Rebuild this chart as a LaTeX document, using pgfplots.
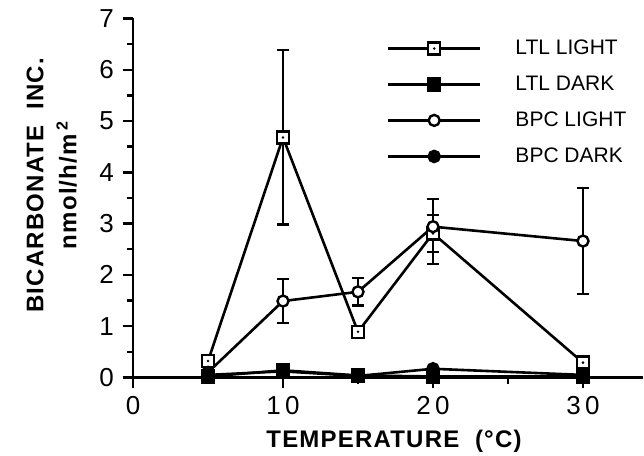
\documentclass[border=0pt]{standalone}
\usepackage{pgfplots}
\pgfplotsset{compat=1.18}
\usepackage{fontspec}
\setmainfont{Liberation Sans}
\newfontfamily\labfont[LetterSpace=5]{Liberation Sans}
\pgfdeclareplotmark{sqdot}{%
  \pgfpathrectangle{\pgfqpoint{-\pgfplotmarksize}{-\pgfplotmarksize}}{\pgfqpoint{2\pgfplotmarksize}{2\pgfplotmarksize}}%
  \pgfusepathqfillstroke
  \begin{pgfscope}%
  \pgfsetfillcolor{black}%
  \pgfpathcircle{\pgfpointorigin}{0.7pt}%
  \pgfusepathqfill
  \end{pgfscope}}
\begin{document}
\begin{tikzpicture}
\begin{axis}[
  at={(0,0)}, anchor=south west,
  scale only axis, width=255pt, height=179.55pt,
  xmin=0, xmax=34, ymin=0, ymax=7,
  axis x line*=bottom, axis y line*=left,
  axis line style={line width=1.2pt},
  every tick/.style={line width=1.2pt, black},
  tick align=outside,
  major tick length=5pt, minor tick length=3pt,
  xtick={0,10,20,30}, minor xtick={5,15,25},
  xticklabels={0,1\,0,2\,0,3\,0},
  ytick={0,1,2,3,4,5,6,7}, minor ytick={0.5,1.5,2.5,3.5,4.5,5.5,6.5},
  yticklabels={0,1,2,3,4,5,6,7},
  ticklabel style={font=\fontsize{13}{15}\selectfont},
  xticklabel style={yshift=-1pt},
  yticklabel style={xshift=-1pt},
  clip=false,
  legend style={draw=none, fill=none, at={(axis cs:16.5,6.75)}, anchor=north west,
    font=\fontsize{10.5}{12}\selectfont, row sep=5.2pt,
    /tikz/every odd column/.style={column sep=15pt}},
  legend cell align=left,
  legend image code/.code={\draw[mark repeat=2,mark phase=2,#1] plot coordinates {(0pt,0pt) (23pt,0pt) (46pt,0pt)};},
  error bars/error bar style={line width=1.2pt, black},
  error bars/error mark options={rotate=90, mark size=3pt, line width=1.2pt, black},
]
% LTL LIGHT
\addplot[black, line width=1.3pt, mark=sqdot, mark size=3pt, mark options={fill=white, solid, line width=1.2pt},
  error bars/.cd, y dir=both, y explicit]
  coordinates {(5,0.32) +- (0,0) (10,4.68) +- (0,1.70) (15,0.89) +- (0,0) (20,2.81) +- (0,0.36) (30,0.29) +- (0,0)};
\addlegendentry{LTL LIGHT}
% LTL DARK
\addplot[black, line width=1.3pt, mark=square*, mark size=3pt, mark options={fill=black, solid}]
  coordinates {(5,0.02) (10,0.14) (15,0.04) (20,0.02) (30,0.02)};
\addlegendentry{LTL DARK}
% BPC LIGHT
\addplot[black, line width=1.3pt, mark=*, mark size=2.75pt, mark options={fill=white, solid, line width=1.2pt},
  error bars/.cd, y dir=both, y explicit]
  coordinates {(5,0.10) +- (0,0) (10,1.49) +- (0,0.43) (15,1.67) +- (0,0.27) (20,2.94) += (0,0.54) -= (0,0.73) (30,2.66) +- (0,1.03)};
\addlegendentry{BPC LIGHT}
% BPC DARK
\addplot[black, line width=1.3pt, mark=*, mark size=2.75pt, mark options={fill=black, solid}]
  coordinates {(5,0.05) (10,0.12) (15,0.03) (20,0.17) (30,0.05)};
\addlegendentry{BPC DARK}
\node[rotate=90, font=\fontsize{12}{14}\labfont\bfseries] at (axis description cs:-0.192,0.535) {BICARBONATE\ \ INC.};
\node[rotate=90, font=\fontsize{12}{14}\labfont\bfseries] at (axis description cs:-0.13,0.537) {nmol/h/m\,\textsuperscript{2}};
\node[font=\fontsize{12}{14}\labfont\bfseries, yshift=-32pt, xshift=3pt] at (axis description cs:0.5,0) {TEMPERATURE\ \ (°C)};
\end{axis}
\pgfresetboundingbox
\path (-66.5pt,-39.25pt) rectangle (255.5pt,188.75pt);
\end{tikzpicture}
\end{document}
